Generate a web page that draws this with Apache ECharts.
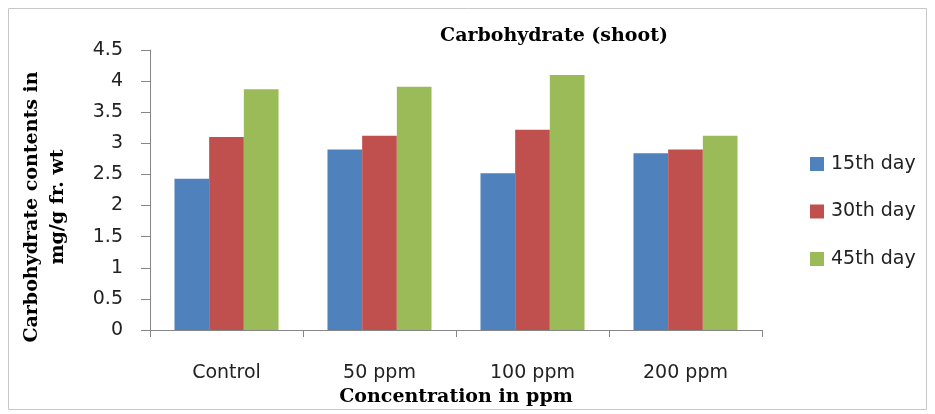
<!DOCTYPE html>
<html>
<head>
<meta charset="utf-8">
<script src="https://cdn.jsdelivr.net/npm/echarts@6/dist/echarts.min.js"></script>
<style>
  html, body { margin: 0; padding: 0; background: #fff; }
  #chart { width: 935px; height: 414px; }
</style>
</head>
<body>
<div id="chart"></div>
<script>
// Concentration groups and carbohydrate content (mg/g fr. wt) by sampling day
const categories = ['Control', '50 ppm', '100 ppm', '200 ppm'];
const day15 = [2.43, 2.90, 2.52, 2.84];
const day30 = [3.10, 3.12, 3.22, 2.90];
const day45 = [3.87, 3.91, 4.10, 3.12];
const seriesNames = ['15th day', '30th day', '45th day'];
const seriesColors = ['#4f81bd', '#c0504d', '#9bbb59'];
const yTicks = { min: 0, max: 4.5, interval: 0.5 };

const chart = echarts.init(document.getElementById('chart'), null, { renderer: 'canvas' });

const serif = '"DejaVu Serif", "Liberation Serif", serif';
const sans = '"DejaVu Sans", Verdana, sans-serif';
const axisGrey = '#868686';

const makeSeries = (name, data, color) => ({
  name,
  type: 'bar',
  data,
  barGap: '0%',
  barCategoryGap: '32%',
  itemStyle: { color },
  emphasis: { disabled: true }
});

chart.setOption({
  animation: false,
  backgroundColor: '#ffffff',
  title: {
    text: 'Carbohydrate (shoot)',
    left: 549,
    top: 22,
    textAlign: 'center',
    textStyle: { fontFamily: serif, fontWeight: 'bold', fontSize: 19, color: '#000' }
  },
  legend: {
    orient: 'vertical',
    left: 805,
    top: 149,
    itemWidth: 14,
    itemHeight: 14,
    itemGap: 27.5,
    icon: 'rect',
    textStyle: { fontFamily: sans, fontSize: 19, lineHeight: 20, color: '#222', padding: [0, 0, 0, 2] },
    data: seriesNames
  },
  grid: { left: 150, top: 50, width: 612, height: 280, containLabel: false },
  xAxis: {
    type: 'category',
    data: categories,
    name: 'Concentration in ppm',
    nameLocation: 'middle',
    nameGap: 57,
    nameTextStyle: { fontFamily: serif, fontWeight: 'bold', fontSize: 19, color: '#000' },
    axisLine: { lineStyle: { color: axisGrey } },
    axisTick: { show: true, length: 7, lineStyle: { color: axisGrey } },
    axisLabel: { fontFamily: sans, fontSize: 19, color: '#222', margin: 34 },
    splitLine: { show: false }
  },
  yAxis: {
    type: 'value',
    min: yTicks.min,
    max: yTicks.max,
    interval: yTicks.interval,
    name: 'Carbohydrate contents in\nmg/g fr. wt',
    nameLocation: 'middle',
    nameGap: 79,
    nameRotate: 90,
    nameTextStyle: {
      fontFamily: serif, fontWeight: 'bold', fontSize: 19, color: '#000',
      lineHeight: 26, padding: [0, 34, 0, 0]
    },
    axisLine: { show: true, lineStyle: { color: axisGrey } },
    axisTick: { show: true, length: 9, inside: false, lineStyle: { color: axisGrey } },
    axisLabel: { fontFamily: sans, fontSize: 19, color: '#222', margin: 27 },
    splitLine: { show: false }
  },
  graphic: [{
    type: 'rect',
    shape: { x: 8.5, y: 8.5, width: 918, height: 401 },
    style: { fill: 'none', stroke: '#c8c8c8', lineWidth: 1 },
    silent: true
  }],
  series: [
    makeSeries(seriesNames[0], day15, seriesColors[0]),
    makeSeries(seriesNames[1], day30, seriesColors[1]),
    makeSeries(seriesNames[2], day45, seriesColors[2])
  ]
});
</script>
</body>
</html>
